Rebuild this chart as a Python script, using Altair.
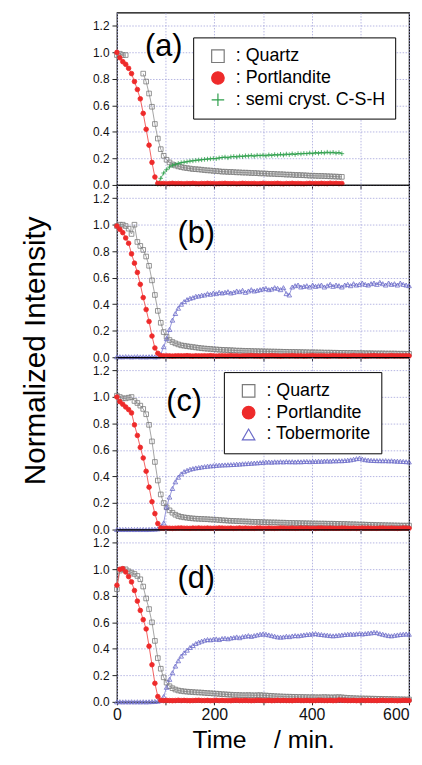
import altair as alt
import pandas as pd

# ---------------- data ----------------
T = [0, 6, 12, 18, 24, 30, 36, 42, 48, 54,
     60, 66, 72, 78, 84, 90, 96, 102, 108, 114,
     120, 126, 132, 138, 144, 150, 156, 162, 168, 174,
     180, 186, 192, 198, 204, 210, 216, 222, 228, 234,
     240, 246, 252, 258, 264, 270, 276, 282, 288, 294,
     300, 306, 312, 318, 324, 330, 336, 342, 348, 354,
     360, 366, 372, 378, 384, 390, 396, 402, 408, 414,
     420, 426, 432, 438, 444, 450, 456, 462, 468, 474,
     480, 486, 492, 498, 504, 510, 516, 522, 528, 534,
     540, 546, 552, 558, 564, 570, 576, 582, 588, 594,
     600]

# ---- panel (a) : 0 .. 462 min
QUARTZ_A = [0.98, 0.99, 0.98, 0.98, None, None, None, None, None, 0.84,
            0.78, 0.69, 0.59, 0.46, 0.35, 0.27, 0.22, 0.19, 0.17, 0.155,
            0.147, 0.14, 0.135, 0.13, 0.127, 0.124, 0.12, 0.119, 0.117, 0.115,
            0.112, 0.11, 0.109, 0.106, 0.105, 0.103, 0.1, 0.1, 0.098, 0.098,
            0.097, 0.095, 0.095, 0.093, 0.093, 0.092, 0.09, 0.09, 0.089, 0.087,
            0.087, 0.086, 0.084, 0.084, 0.083, 0.081, 0.081, 0.08, 0.078, 0.078,
            0.077, 0.075, 0.075, 0.074, 0.073, 0.072, 0.07, 0.07, 0.069, 0.068,
            0.068, 0.067, 0.066, 0.065, 0.064, 0.063, 0.062, 0.061]
PORT_A = [1.0, 0.96, 0.93, 0.91, 0.88, 0.84, 0.78, 0.72, 0.65, 0.54,
          0.42, 0.3, 0.17, 0.06, 0.012, 0.01, 0.011, 0.009, 0.01, 0.012,
          0.01, 0.011, 0.01, 0.009, 0.011, 0.01, 0.012, 0.01, 0.009, 0.011,
          0.01, 0.012, 0.011, 0.01, 0.009, 0.01, 0.011, 0.012, 0.01, 0.01,
          0.011, 0.009, 0.01, 0.012, 0.011, 0.01, 0.01, 0.011, 0.009, 0.01,
          0.012, 0.011, 0.01, 0.01, 0.011, 0.012, 0.01, 0.009, 0.011, 0.01,
          0.012, 0.01, 0.011, 0.01, 0.009, 0.011, 0.012, 0.01, 0.011, 0.01,
          0.012, 0.011, 0.01, 0.013, 0.011, 0.012, 0.01, 0.011]
CSH_A = [None, None, None, None, None, None, None, None, None, None,
         None, None, None, None, 0.005, 0.05, 0.09, 0.115, 0.135, 0.148,
         0.155, 0.162, 0.168, 0.172, 0.175, 0.18, 0.182, 0.186, 0.188, 0.19,
         0.193, 0.195, 0.197, 0.2, 0.198, 0.204, 0.207, 0.21, 0.205, 0.212,
         0.215, 0.211, 0.218, 0.214, 0.22, 0.218, 0.223, 0.217, 0.224, 0.221,
         0.225, 0.22, 0.227, 0.223, 0.229, 0.225, 0.231, 0.226, 0.233, 0.229,
         0.235, 0.23, 0.237, 0.234, 0.238, 0.236, 0.241, 0.236, 0.244, 0.239,
         0.245, 0.241, 0.247, 0.242, 0.246, 0.24, 0.244, 0.236]

# ---- panel (b)
QUARTZ_B = [0.99, 1.0, 1.0, 0.99, 0.97, 0.93, 1.0, 0.87, 0.84, 0.81,
            0.76, 0.69, 0.58, 0.47, 0.35, 0.26, 0.19, 0.155, 0.13, 0.115,
            0.105, 0.097, 0.09, 0.087, 0.083, 0.08, 0.077, 0.074, 0.071, 0.068,
            0.066, 0.064, 0.063, 0.06, 0.059, 0.057, 0.056, 0.055, 0.054, 0.053,
            0.052, 0.05, 0.05, 0.049, 0.048, 0.048, 0.047, 0.046, 0.046, 0.045,
            0.045, 0.044, 0.044, 0.043, 0.043, 0.042, 0.042, 0.041, 0.041, 0.04,
            0.04, 0.04, 0.039, 0.039, 0.038, 0.038, 0.037, 0.037, 0.037, 0.036,
            0.036, 0.035, 0.035, 0.035, 0.034, 0.034, 0.033, 0.033, 0.033, 0.032,
            0.032, 0.032, 0.031, 0.031, 0.031, 0.03, 0.03, 0.03, 0.029, 0.029,
            0.029, 0.029, 0.028, 0.028, 0.028, 0.028, 0.027, 0.027, 0.027, 0.026,
            0.026]
PORT_B = [0.99, 0.965, 0.94, 0.9, 0.86, 0.78, 0.71, 0.64, 0.55, 0.45,
          0.36, 0.27, 0.16, 0.07, 0.03, 0.012, 0.01, 0.011, 0.01, 0.009,
          0.01, 0.011, 0.01, 0.01, 0.012, 0.01, 0.009, 0.011, 0.01, 0.01,
          0.011, 0.01, 0.012, 0.01, 0.009, 0.01, 0.011, 0.01, 0.01, 0.012,
          0.01, 0.011, 0.009, 0.01, 0.01, 0.011, 0.012, 0.01, 0.01, 0.009,
          0.011, 0.01, 0.01, 0.012, 0.011, 0.01, 0.009, 0.01, 0.011, 0.01,
          0.012, 0.01, 0.01, 0.011, 0.009, 0.01, 0.011, 0.012, 0.01, 0.01,
          0.011, 0.01, 0.009, 0.01, 0.012, 0.011, 0.01, 0.01, 0.011, 0.009,
          0.01, 0.012, 0.01, 0.011, 0.01, 0.009, 0.01, 0.011, 0.012, 0.01,
          0.01, 0.011, 0.009, 0.01, 0.012, 0.01, 0.011, 0.01, 0.01, 0.011,
          0.01]
TOBER_B = [0.003, 0.004, 0.003, 0.005, 0.004, 0.003, 0.004, 0.005, 0.003, 0.004,
           0.003, 0.004, 0.005, 0.003, 0.004, 0.02, 0.08, 0.14, 0.21, 0.28,
           0.33, 0.37, 0.4, 0.42, 0.435, 0.445, 0.45, 0.46, 0.462, 0.468,
           0.47, 0.48, 0.475, 0.485, 0.48, 0.49, 0.485, 0.49, 0.495, 0.485,
           0.49, 0.5, 0.495, 0.505, 0.49, 0.5, 0.51, 0.5, 0.505, 0.51,
           0.515, 0.52, 0.51, 0.515, 0.525, 0.52, 0.51, 0.525, 0.48, 0.47,
           0.53, 0.54, 0.545, 0.53, 0.535, 0.54, 0.53, 0.545, 0.535, 0.54,
           0.545, 0.53, 0.54, 0.55, 0.535, 0.545, 0.54, 0.53, 0.545, 0.55,
           0.54, 0.555, 0.545, 0.55, 0.56, 0.55, 0.545, 0.555, 0.56, 0.55,
           0.565, 0.555, 0.545, 0.56, 0.55, 0.555, 0.545, 0.56, 0.55, 0.545,
           0.54]

# ---- panel (c)
QUARTZ_C = [1.01, 1.0, 0.99, 0.99, 0.995, 1.0, 0.97, 0.955, 0.935, 0.91,
            0.87, 0.79, 0.665, 0.51, 0.37, 0.265, 0.2, 0.168, 0.145, 0.127,
            0.112, 0.102, 0.096, 0.092, 0.089, 0.086, 0.084, 0.082, 0.081, 0.08,
            0.079, 0.078, 0.076, 0.075, 0.074, 0.072, 0.07, 0.069, 0.067, 0.066,
            0.065, 0.064, 0.063, 0.062, 0.061, 0.06, 0.059, 0.058, 0.058, 0.057,
            0.056, 0.055, 0.055, 0.054, 0.054, 0.053, 0.052, 0.052, 0.051, 0.05,
            0.05, 0.049, 0.049, 0.048, 0.048, 0.047, 0.047, 0.046, 0.046, 0.045,
            0.045, 0.045, 0.044, 0.044, 0.044, 0.043, 0.043, 0.042, 0.042, 0.041,
            0.04, 0.04, 0.039, 0.038, 0.038, 0.037, 0.036, 0.036, 0.035, 0.034,
            0.034, 0.033, 0.033, 0.032, 0.032, 0.031, 0.031, 0.03, 0.03, 0.03,
            0.03]
PORT_C = [1.0, 0.965, 0.945, 0.925, 0.905, 0.88, 0.79, 0.71, 0.62, 0.54,
          0.44, 0.32, 0.21, 0.12, 0.045, 0.012, 0.01, 0.011, 0.01, 0.009,
          0.01, 0.011, 0.012, 0.01, 0.01, 0.009, 0.011, 0.01, 0.012, 0.01,
          0.01, 0.011, 0.01, 0.009, 0.01, 0.012, 0.011, 0.01, 0.01, 0.011,
          0.009, 0.01, 0.012, 0.01, 0.011, 0.01, 0.01, 0.009, 0.011, 0.012,
          0.01, 0.01, 0.011, 0.01, 0.009, 0.01, 0.012, 0.011, 0.01, 0.01,
          0.011, 0.009, 0.01, 0.012, 0.01, 0.011, 0.01, 0.01, 0.009, 0.011,
          0.012, 0.01, 0.01, 0.011, 0.01, 0.009, 0.01, 0.012, 0.011, 0.01,
          0.01, 0.011, 0.009, 0.01, 0.012, 0.01, 0.011, 0.01, 0.01, 0.009,
          0.011, 0.012, 0.01, 0.01, 0.011, 0.01, 0.009, 0.01, 0.012, 0.011,
          0.01]
TOBER_C = [0.0, 0.001, 0.0, 0.001, 0.0, 0.001, 0.0, 0.001, 0.0, 0.001,
           0.0, 0.001, 0.002, 0.003, 0.005, 0.02, 0.05, 0.17, 0.245, 0.31,
           0.36, 0.395, 0.42, 0.437, 0.447, 0.455, 0.46, 0.465, 0.468, 0.472,
           0.475, 0.478, 0.48, 0.482, 0.484, 0.486, 0.487, 0.488, 0.489, 0.49,
           0.491, 0.493, 0.494, 0.496, 0.497, 0.499, 0.5, 0.502, 0.503, 0.505,
           0.507, 0.509, 0.51, 0.508, 0.511, 0.51, 0.512, 0.51, 0.513, 0.511,
           0.512, 0.51, 0.512, 0.511, 0.513, 0.514, 0.512, 0.515, 0.514, 0.516,
           0.515, 0.517, 0.518, 0.516, 0.519, 0.518, 0.52, 0.519, 0.521, 0.523,
           0.526, 0.53, 0.535, 0.538, 0.532, 0.527, 0.524, 0.522, 0.521, 0.52,
           0.52, 0.519, 0.52, 0.518, 0.519, 0.517, 0.516, 0.515, 0.514, 0.512,
           0.51]

# ---- panel (d)
QUARTZ_D = [0.85, 0.99, 1.0, 1.0, 0.985, 0.975, 0.965, 0.95, 0.925, 0.87,
            0.78, 0.7, 0.6, 0.46, 0.33, 0.25, 0.185, 0.145, 0.118, 0.103,
            0.093, 0.086, 0.082, 0.079, 0.077, 0.075, 0.074, 0.072, 0.071, 0.07,
            0.068, 0.066, 0.065, 0.063, 0.062, 0.06, 0.058, 0.057, 0.055, 0.054,
            0.052, 0.052, 0.051, 0.05, 0.05, 0.051, 0.05, 0.049, 0.05, 0.051,
            0.049, 0.048, 0.046, 0.045, 0.043, 0.042, 0.041, 0.04, 0.039, 0.039,
            0.038, 0.038, 0.037, 0.037, 0.036, 0.036, 0.035, 0.035, 0.035, 0.034,
            0.035, 0.036, 0.035, 0.034, 0.034, 0.035, 0.036, 0.034, 0.032, 0.03,
            0.029, 0.028, 0.027, 0.026, 0.026, 0.025, 0.025, 0.024, 0.024, 0.023,
            0.023, 0.022, 0.022, 0.021, 0.021, 0.02, 0.02, 0.019, 0.019, 0.018,
            0.018]
PORT_D = [0.88, 1.0, 1.005, 0.98, 0.945, 0.905, 0.84, 0.76, 0.69, 0.62,
          0.55, 0.42, 0.28, 0.14, 0.04, 0.012, 0.01, 0.011, 0.01, 0.009,
          0.01, 0.012, 0.01, 0.011, 0.01, 0.009, 0.01, 0.011, 0.012, 0.01,
          0.01, 0.011, 0.009, 0.01, 0.012, 0.01, 0.011, 0.01, 0.01, 0.009,
          0.011, 0.012, 0.01, 0.01, 0.011, 0.01, 0.009, 0.01, 0.012, 0.011,
          0.01, 0.01, 0.011, 0.009, 0.01, 0.012, 0.01, 0.011, 0.01, 0.01,
          0.009, 0.011, 0.012, 0.01, 0.01, 0.011, 0.01, 0.009, 0.01, 0.012,
          0.011, 0.01, 0.01, 0.011, 0.009, 0.01, 0.014, 0.012, 0.011, 0.01,
          0.01, 0.011, 0.009, 0.01, 0.012, 0.01, 0.011, 0.01, 0.01, 0.009,
          0.011, 0.012, 0.01, 0.01, 0.011, 0.01, 0.009, 0.01, 0.012, 0.011,
          0.01]
TOBER_D = [0.0, 0.001, 0.0, 0.001, 0.0, 0.001, 0.0, 0.001, 0.0, 0.001,
           0.0, 0.001, 0.002, 0.003, 0.005, 0.01, 0.04, 0.11, 0.17, 0.22,
           0.27, 0.31, 0.345, 0.37, 0.39, 0.41, 0.425, 0.44, 0.45, 0.458,
           0.465, 0.47, 0.468, 0.472, 0.475, 0.47, 0.478, 0.48, 0.476, 0.482,
           0.485, 0.49, 0.484, 0.492, 0.495, 0.5, 0.494, 0.5, 0.505, 0.51,
           0.512, 0.51, 0.505, 0.5, 0.495, 0.49, 0.488, 0.49, 0.495, 0.492,
           0.497, 0.5, 0.498, 0.502, 0.505, 0.508, 0.51, 0.512, 0.515, 0.51,
           0.508, 0.505, 0.503, 0.5, 0.498, 0.5, 0.503, 0.505, 0.508, 0.51,
           0.512, 0.51, 0.513, 0.515, 0.512, 0.515, 0.518, 0.52, 0.525, 0.522,
           0.515, 0.51, 0.505, 0.5, 0.498, 0.502, 0.505, 0.508, 0.51, 0.512,
           0.51]

PANEL_LABELS = ["(a)", "(b)", "(c)", "(d)"]
X_TICKS = [0, 100, 200, 300, 400, 500, 600]
Y_TICKS = [0.0, 0.2, 0.4, 0.6, 0.8, 1.0, 1.2]

# ---------------- styling ----------------
FONT = "Liberation Sans"
W, H = 295, 174
NB = "\u00a0"
MARK_STROKE = {"Quartz": "#7a7a7a", "Portlandite": "#ee2a2a",
               "Tobermorite": "#6a6ac8", "semi cryst. C-S-H": "#2c9e4a"}
LINE_COL = {"Quartz": "#9a9a9a", "Portlandite": "#f05050",
            "Tobermorite": "#8c8cd8", "semi cryst. C-S-H": "#4aae66"}
FILL = {"Quartz": "transparent", "Portlandite": "#ee2a2a",
        "Tobermorite": "transparent", "semi cryst. C-S-H": "transparent"}
SHAPE = {"Quartz": "square", "Portlandite": "circle",
         "Tobermorite": "triangle-up", "semi cryst. C-S-H": "M-1,0L1,0M0,-1L0,1"}
GRID = dict(gridColor="#a4a4dc", gridDash=[1.5, 1.5], gridWidth=0.8)


def make_df(series):
    rows = []
    for name, vals in series:
        seg = 0
        for t, v in zip(T, vals):
            if v is None:
                seg += 1
                continue
            rows.append({"t": t, "v": v, "series": name, "grp": f"{name}{seg}"})
    return pd.DataFrame(rows)


def panel(series, legend_order, label, label_xy, legend_xy=None, legend_pad=3,
          bottom=False, ytitle=False):
    names = [s[0] for s in series]
    df = make_df(series)
    if bottom:
        xaxis = alt.Axis(values=X_TICKS, labelExpr="datum.value % 200 == 0 ? datum.label : ''",
                         labelFlush=False, labelOverlap=False, labelFontSize=16, labelFont=FONT,
                         labelAlign={"condition": {"test": "datum.value == 600", "value": "right"},
                                     "value": "center"},
                         labelColor="#111", labelPadding=2, tickSize=3, tickColor="#222",
                         title="Time" + NB * 4 + "/ min.", titleFont=FONT, titleFontSize=25,
                         titleFontWeight="normal", titleColor="black", titlePadding=5,
                         domain=False, **GRID)
    else:
        xaxis = alt.Axis(values=X_TICKS, labels=False, title=None, tickSize=4, tickColor="#222",
                         domain=False, **GRID)
    yargs = dict(values=Y_TICKS, format=".1f", labelOverlap=False, labelSeparation=0,
                 labelFontSize=12, labelFont=FONT, labelColor="#111", labelPadding=3,
                 tickSize=5, tickColor="#222", domain=False, **GRID)
    if ytitle:
        yaxis = alt.Axis(title="Normalized Intensity", titleFont=FONT, titleFontSize=30,
                         titleFontWeight="normal", titleColor="black", titleY=H - 7,
                         titlePadding=42, **yargs)
    else:
        yaxis = alt.Axis(title=None, **yargs)
    xs = alt.Scale(domain=[0, 600], nice=False)
    ys = alt.Scale(domain=[0, 1.3], nice=False)
    x = alt.X("t:Q", scale=xs, axis=xaxis)
    y = alt.Y("v:Q", scale=ys, axis=yaxis)

    layers = []
    for name in names:
        layers.append(
            alt.Chart(df[df["series"] == name]).mark_line(strokeWidth=0.9, color=LINE_COL[name])
            .encode(x=x, y=y, detail="grp:N", order="t:Q"))
    if legend_xy:
        leg = alt.Legend(title=None, orient="none", legendX=legend_xy[0], legendY=legend_xy[1],
                         labelExpr="': ' + datum.label + '" + NB * legend_pad + "'",
                         labelFont=FONT, labelFontSize=18, labelColor="black", labelLimit=400,
                         symbolSize=160, symbolStrokeWidth=1.2, symbolOffset=6,
                         labelOffset=9, rowPadding=4, padding=10,
                         strokeColor="black", fillColor="white")
    else:
        leg = None
    dom = legend_order
    pts = alt.Chart(df).mark_point(size=22, strokeWidth=0.8, opacity=1).encode(
        x=x, y=y,
        shape=alt.Shape("series:N", scale=alt.Scale(domain=dom, range=[SHAPE[n] for n in dom]),
                        legend=leg),
        stroke=alt.Stroke("series:N", scale=alt.Scale(domain=dom, range=[MARK_STROKE[n] for n in dom]),
                          legend=leg),
        fill=alt.Fill("series:N", scale=alt.Scale(domain=dom, range=[FILL[n] for n in dom]),
                      legend=leg))
    layers.append(pts)
    lab_df = pd.DataFrame({"t": [label_xy[0]], "v": [label_xy[1]], "label": [label]})
    layers.append(
        alt.Chart(lab_df).mark_text(font=FONT, fontSize=31, color="black").encode(
            x=x, y=y, text="label:N"))
    return alt.layer(*layers).properties(width=W, height=H)


ORDER_A = ["Quartz", "Portlandite", "semi cryst. C-S-H"]
ORDER_T = ["Quartz", "Portlandite", "Tobermorite"]

pa = panel([("Quartz", QUARTZ_A), ("semi cryst. C-S-H", CSH_A), ("Portlandite", PORT_A)], ORDER_A,
           PANEL_LABELS[0], (96, 1.04), legend_xy=(77, 25), legend_pad=5)
pb = panel([("Quartz", QUARTZ_B), ("Tobermorite", TOBER_B), ("Portlandite", PORT_B)], ORDER_T,
           PANEL_LABELS[1], (163, 0.93), ytitle=True)
pc = panel([("Quartz", QUARTZ_C), ("Tobermorite", TOBER_C), ("Portlandite", PORT_C)], ORDER_T,
           PANEL_LABELS[2], (138, 0.96), legend_xy=(108, 15), legend_pad=3)
pd_ = panel([("Quartz", QUARTZ_D), ("Tobermorite", TOBER_D), ("Portlandite", PORT_D)], ORDER_T,
            PANEL_LABELS[3], (163, 0.93), bottom=True)

chart = alt.vconcat(pa, pb, pc, pd_, spacing=0, bounds="flush").resolve_scale(
    shape="independent", stroke="independent", fill="independent"
).resolve_legend(
    shape="independent", stroke="independent", fill="independent"
).properties(
    padding={"left": 12, "top": 0, "right": 0, "bottom": 0}
).configure_view(stroke="black", strokeWidth=1.2).configure_axisY(labelOverlap=False)

chart.save("out.html", embed_options={"renderer": "svg", "actions": False})
